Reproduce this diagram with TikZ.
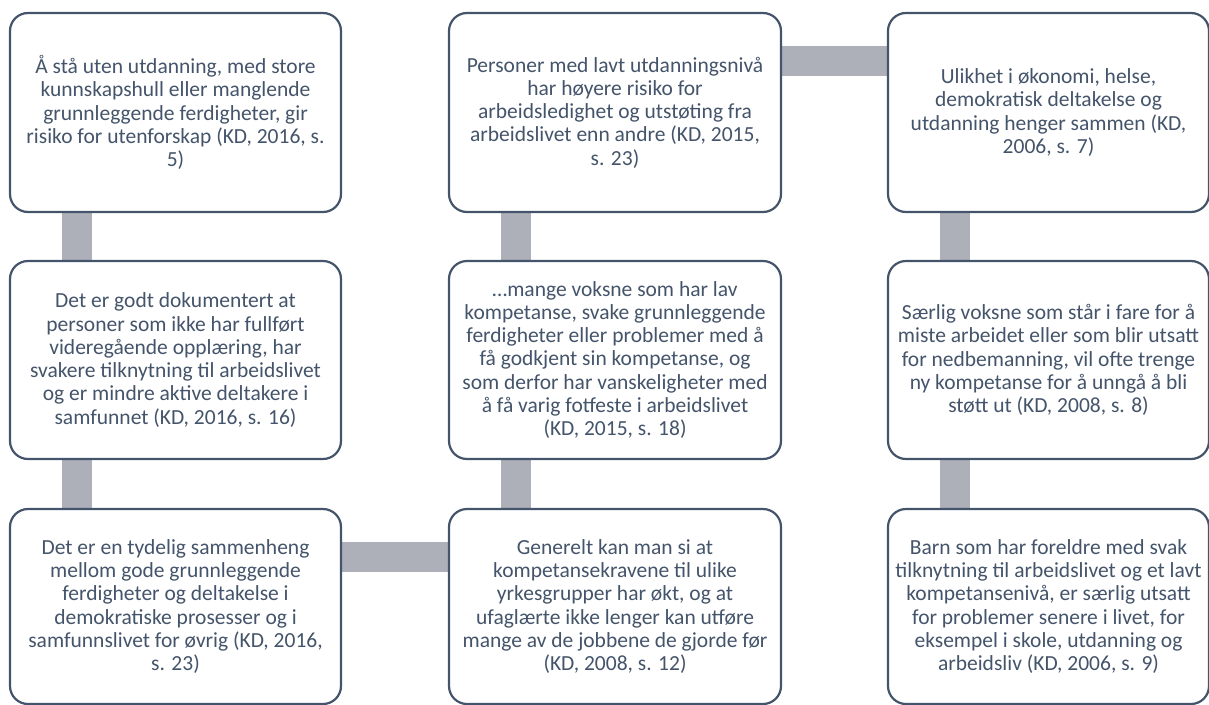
\documentclass[tikz,border=0pt]{standalone}
\usepackage{fontspec}
\setmainfont{Carlito}
\usepackage{tikz}
\usetikzlibrary{positioning, backgrounds}
\usepackage{xcolor}
\definecolor{slate}{HTML}{44546A}
\definecolor{linkgray}{RGB}{173,176,184}

\tikzset{
  card/.style={draw=slate, line width=2.2pt, fill=white, rounded corners=18pt,
    align=center, text=slate, inner sep=4pt,
    font=\fontsize{21.5}{23.3}\selectfont},
  link/.style={draw=linkgray, line width=30pt, line cap=butt}
}

\begin{document}
\begin{tikzpicture}[x=1pt, y=-1pt]
    \useasboundingbox (0,0) rectangle (1209,704);
    % top row
    \node[card, minimum width=331pt, minimum height=199pt] (b11) at (175.5,112.5)
      {Å stå uten utdanning, med store\\kunnskapshull eller manglende\\grunnleggende ferdigheter, gir\\risiko for utenforskap (KD, 2016, s.\\5)};
    \node[card, minimum width=332pt, minimum height=199pt] (b12) at (615,112.5)
      {Personer med lavt utdanningsnivå\\har høyere risiko for\\arbeidsledighet og utstøting fra\\arbeidslivet enn andre (KD, 2015,\\s. 23)};
    \node[card, minimum width=321pt, minimum height=199pt] (b13) at (1048.5,112.5)
      {Ulikhet i økonomi, helse,\\demokratisk deltakelse og\\utdanning henger sammen (KD,\\2006, s. 7)};
    % middle row
    \node[card, minimum width=331pt, minimum height=198pt] (b21) at (175.5,360)
      {Det er godt dokumentert at\\personer som ikke har fullført\\videregående opplæring, har\\svakere tilknytning til arbeidslivet\\og er mindre aktive deltakere i\\samfunnet (KD, 2016, s. 16)};
    \node[card, minimum width=332pt, minimum height=198pt] (b22) at (615,360)
      {…mange voksne som har lav\\kompetanse, svake grunnleggende\\ferdigheter eller problemer med å\\få godkjent sin kompetanse, og\\som derfor har vanskeligheter med\\å få varig fotfeste i arbeidslivet\\(KD, 2015, s. 18)};
    \node[card, minimum width=321pt, minimum height=198pt] (b23) at (1048.5,360)
      {Særlig voksne som står i fare for å\\miste arbeidet eller som blir utsatt\\for nedbemanning, vil ofte trenge\\ny kompetanse for å unngå å bli\\støtt ut (KD, 2008, s. 8)};
    % bottom row
    \node[card, minimum width=331pt, minimum height=195pt] (b31) at (175.5,606.5)
      {Det er en tydelig sammenheng\\mellom gode grunnleggende\\ferdigheter og deltakelse i\\demokratiske prosesser og i\\samfunnslivet for øvrig (KD, 2016,\\s. 23)};
    \node[card, minimum width=332pt, minimum height=195pt] (b32) at (615,606.5)
      {Generelt kan man si at\\kompetansekravene til ulike\\yrkesgrupper har økt, og at\\ufaglærte ikke lenger kan utføre\\mange av de jobbene de gjorde før\\(KD, 2008, s. 12)};
    \node[card, minimum width=321pt, minimum height=195pt] (b33) at (1048.5,606.5)
      {Barn som har foreldre med svak\\tilknytning til arbeidslivet og et lavt\\kompetansenivå, er særlig utsatt\\for problemer senere i livet, for\\eksempel i skole, utdanning og\\arbeidsliv (KD, 2006, s. 9)};
    % snake of grey bars behind the cards
    \begin{scope}[on background layer]
      \draw[link] ([xshift=68pt]b11.south west) -- ([xshift=68pt]b21.north west);
      \draw[link] ([xshift=68pt]b21.south west) -- ([xshift=68pt]b31.north west);
      \draw[link] ([yshift=-49pt]b31.north east) -- ([yshift=-49pt]b32.north west);
      \draw[link] ([xshift=68pt]b32.north west) -- ([xshift=68pt]b22.south west);
      \draw[link] ([xshift=68pt]b22.north west) -- ([xshift=68pt]b12.south west);
      \draw[link] ([yshift=-49.5pt]b12.north east) -- ([yshift=-49.5pt]b13.north west);
      \draw[link] ([xshift=68pt]b13.south west) -- ([xshift=68pt]b23.north west);
      \draw[link] ([xshift=68pt]b23.south west) -- ([xshift=68pt]b33.north west);
    \end{scope}
  \end{tikzpicture}
\end{document}
